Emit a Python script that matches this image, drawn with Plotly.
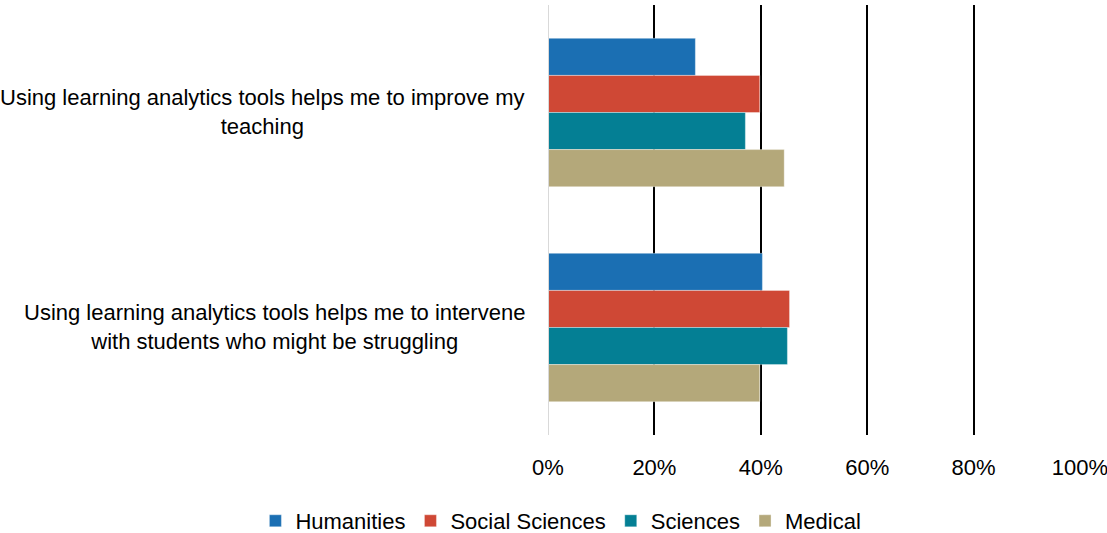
import plotly.graph_objects as go

categories = [
    "Using learning analytics tools helps me to improve my<br>teaching",
    "Using learning analytics tools helps me to intervene<br>with students who might be struggling",
]
series_names = ["Humanities", "Social Sciences", "Sciences", "Medical"]
values = {
    "Humanities": [0.277, 0.403],
    "Social Sciences": [0.398, 0.454],
    "Sciences": [0.371, 0.450],
    "Medical": [0.444, 0.398],
}
colors = {
    "Humanities": "#1b6fb3",
    "Social Sciences": "#cf4835",
    "Sciences": "#047f94",
    "Medical": "#b4a87a",
}
tick_vals = [0, 0.2, 0.4, 0.6, 0.8, 1.0]
tick_text = ["0%", "20%", "40%", "60%", "80%", "100%"]

FONT = "Liberation Sans, Arial, sans-serif"

fig = go.Figure()
for name in series_names:
    fig.add_trace(go.Bar(
        y=categories, x=values[name], name=name, orientation="h",
        marker=dict(color=colors[name], line=dict(color="rgba(255,255,255,0.35)", width=1)),
    ))

for cat in categories:
    fig.add_annotation(
        x=0, xref="paper", y=cat, yref="y", xanchor="right", xshift=-21, yshift=1,
        text=cat, showarrow=False, align="center",
        font=dict(family=FONT, size=22, color="#000000"),
    )

fig.update_layout(
    template="none",
    width=1107, height=533,
    margin=dict(l=548, r=27, t=5, b=98, autoexpand=False),
    barmode="group", bargap=0.31, bargroupgap=0,
    plot_bgcolor="white", paper_bgcolor="white",
    font=dict(family=FONT, size=22, color="#000000"),
    showlegend=True,
    legend=dict(
        orientation="h", x=-0.55, xanchor="left",
        y=-0.2, yanchor="middle",
        font=dict(family=FONT, size=22, color="#000000"),
        traceorder="normal", itemwidth=30, bgcolor="rgba(0,0,0,0)",
    ),
    xaxis=dict(
        range=[0, 1.0], tickvals=tick_vals, ticktext=tick_text,
        showgrid=True, gridcolor="#000000", gridwidth=2,
        zeroline=False, showline=False, automargin=False,
        ticks="outside", ticklen=13, tickcolor="rgba(0,0,0,0)",
        ticklabeloverflow="allow",
        tickfont=dict(family=FONT, size=22, color="#000000"),
    ),
    yaxis=dict(
        autorange="reversed", showticklabels=False, showgrid=False,
        showline=False, zeroline=False, automargin=False,
    ),
)
fig.add_shape(type="line", xref="x", yref="paper", x0=0, x1=0, y0=0, y1=1,
              line=dict(color="#d9d9d9", width=2))

fig.write_html("out.html", config={"displayModeBar": False},
               post_script="document.body.style.margin='0';")
